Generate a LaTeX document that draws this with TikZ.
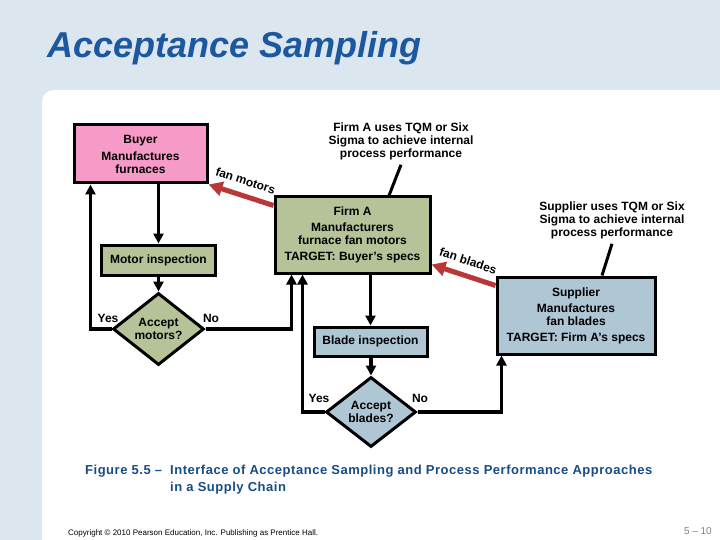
\documentclass[tikz,border=0pt]{standalone}
\usepackage{fontspec}
\setmainfont{Liberation Sans}
\usetikzlibrary{shapes.geometric,arrows.meta}

\definecolor{slidebg}{RGB}{220,230,238}
\definecolor{titleblue}{RGB}{28,88,160}
\definecolor{capblue}{RGB}{24,76,134}
\definecolor{buyerpink}{RGB}{246,155,200}
\definecolor{firmgreen}{RGB}{182,195,153}
\definecolor{supblue}{RGB}{175,198,213}
\definecolor{supred}{RGB}{185,55,55}

\newcommand\boxfont{\fontsize{12}{13}\selectfont\bfseries}

\tikzset{
  box/.style={draw=black,line width=3pt,align=center,font=\boxfont,inner sep=2pt},
  decision/.style={diamond,draw=black,line width=3pt,align=center,font=\boxfont,
    inner sep=0pt,minimum width=91pt,minimum height=72pt},
  conn/.style={line width=3.5pt,-{Triangle[length=10pt,width=10pt]}},
  supply/.style={draw=supred,line width=5pt,{Triangle[length=14pt,width=14pt]}-},
  noteline/.style={line width=3pt},
  note/.style={align=center,font=\boxfont,inner sep=1pt},
  flowlbl/.style={font=\boxfont,inner sep=1pt,sloped,above=7pt},
  yesno/.style={font=\boxfont,inner sep=0pt}
}

\begin{document}
\begin{tikzpicture}[x=1pt,y=-1pt]
  \useasboundingbox (0,0) rectangle (720,540);
  \fill[slidebg] (0,0) rectangle (720,540);
  \clip (0,0) rectangle (720,540);
  \fill[white,rounded corners=12pt] (42,90) rectangle (760,580);

  \node[anchor=base west,inner sep=0pt,text=titleblue,
    font=\fontsize{36}{40}\selectfont\bfseries\itshape] (title) at (47,58) {Acceptance Sampling};

  % buyer
  \node[box,fill=buyerpink,minimum width=133pt,minimum height=58pt] (buyer) at (140.5,154)
    {Buyer\\[4pt]Manufactures\\furnaces};
  \node[box,fill=firmgreen,minimum width=114pt,minimum height=30pt] (motorinsp) at (158.5,260)
    {Motor inspection};
  \node[decision,fill=firmgreen] (acceptm) at (158.5,329) {Accept\\motors?};

  % firm A
  \node[box,fill=firmgreen,minimum width=155pt,minimum height=76pt] (firma) at (352.5,235)
    {Firm A\\[3pt]Manufacturers\\furnace fan motors\\[3pt]TARGET: Buyer's specs};
  \node[box,fill=supblue,minimum width=113pt,minimum height=29pt] (bladeinsp) at (370.5,341.5)
    {Blade inspection};
  \node[decision,fill=supblue,minimum width=90pt,minimum height=70pt] (acceptb) at (371,412)
    {Accept\\blades?};

  % supplier
  \node[box,fill=supblue,minimum width=158pt,minimum height=77pt] (supplier) at (576,315.5)
    {Supplier\\[3pt]Manufactures\\fan blades\\[3pt]TARGET: Firm A's specs};

  \node[note] (firmnote) at (401,141) {Firm A uses TQM or Six\\Sigma to achieve internal\\process performance};
  \node[note] (supnote) at (612,220) {Supplier uses TQM or Six\\Sigma to achieve internal\\process performance};
  \draw[noteline] ([xshift=36.5pt]firma.north) -- ([yshift=-4pt]firmnote.south);
  \draw[noteline] ([xshift=26pt]supplier.north) -- ([yshift=-4pt]supnote.south);

  % inspection loops
  \draw[conn] (motorinsp.north |- buyer.south) -- (motorinsp.north);
  \draw[conn] (motorinsp.south) -- (acceptm.north);
  \draw[conn] (acceptm.west) -| ([xshift=18pt]buyer.south west);
  \draw[conn] (acceptm.east) -| ([xshift=18pt]firma.south west);
  \draw[conn] (bladeinsp.north |- firma.south) -- (bladeinsp.north);
  \draw[conn] (acceptb.north |- bladeinsp.south) -- (acceptb.north);
  \draw[conn] (acceptb.west) -| ([xshift=29pt]firma.south west);
  \draw[conn] (acceptb.east) -| ([xshift=6pt]supplier.south west);

  \node[yesno] (yesm) at (108,318) {Yes};
  \node[yesno] (nom) at (211,318) {No};
  \node[yesno] (yesb) at (319,398) {Yes};
  \node[yesno] (nob) at (420,398) {No};

  % material flow
  \draw[supply] (buyer.south east) -- node[flowlbl] {fan motors} ([yshift=-10pt]firma.north west);
  \draw[supply] ([yshift=10pt]firma.south east) -- node[flowlbl] {fan blades} ([yshift=-10pt]supplier.north west);

  % caption
  \node[anchor=north west,inner sep=0pt,text=capblue,
    font=\fontsize{13}{17}\selectfont\bfseries\addfontfeature{LetterSpace=4}] (figno)
    at (85,465) {Figure 5.5 --};
  \node[anchor=north west,inner sep=0pt,text=capblue,align=left,
    font=\fontsize{13}{17}\selectfont\bfseries\addfontfeature{LetterSpace=4}] (captext)
    at (170,465) {Interface of Acceptance Sampling and Process Performance Approaches\\in a Supply Chain};
  \node[anchor=base west,inner sep=0pt,font=\fontsize{8}{9}\selectfont] (copyright) at (68,535)
    {Copyright \textcopyright{} 2010 Pearson Education, Inc. Publishing as Prentice Hall.};
  \node[anchor=base east,inner sep=0pt,text=gray,font=\fontsize{10}{12}\selectfont] (pageno) at (712,534) {5 -- 10};
\end{tikzpicture}
\end{document}
